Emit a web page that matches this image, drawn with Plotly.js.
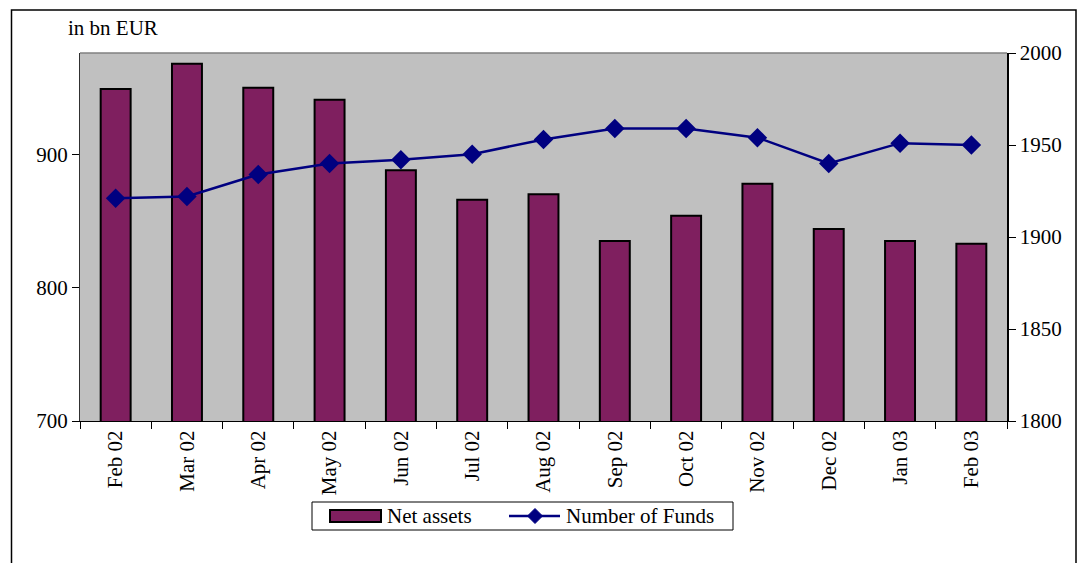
<!DOCTYPE html>
<html>
<head>
<meta charset="utf-8">
<script src="https://cdn.plot.ly/plotly-3.0.1.min.js"></script>
<style>
html,body{margin:0;padding:0;background:#fff;}
#chart{width:1082px;height:563px;}
</style>
</head>
<body>
<div id="chart"></div>
<script>
const months = ["Feb 02","Mar 02","Apr 02","May 02","Jun 02","Jul 02","Aug 02","Sep 02","Oct 02","Nov 02","Dec 02","Jan 03","Feb 03"];
const netAssets = [949, 968, 950, 941, 888, 866, 870, 835, 854, 878, 844, 835, 833];
const numberOfFunds = [1921, 1922, 1934, 1940, 1942, 1945, 1953, 1959, 1959, 1954, 1940, 1951, 1950];
const leftTicks = [700, 800, 900];
const rightTicks = [1800, 1850, 1900, 1950, 2000];
const seriesNames = ["Net assets", "Number of Funds"];

const W = 1082, H = 563;
const M = {l: 80, r: 75, t: 53, b: 142};
const pw = W - M.l - M.r, ph = H - M.t - M.b;
const px = x => (x - M.l) / pw;
const py = y => (H - M.b - y) / ph;

const FONT = '"Liberation Serif", "Times New Roman", serif';
const FS = 21;
const BAR_COLOR = "#7F1F5F";
const LINE_COLOR = "#000080";

const traces = [
  {
    type: "bar",
    name: seriesNames[0],
    x: months,
    y: netAssets,
    width: 0.42,
    marker: {color: BAR_COLOR, line: {color: "#000000", width: 2}},
    showlegend: false
  },
  {
    type: "scatter",
    mode: "lines+markers",
    name: seriesNames[1],
    x: months,
    y: numberOfFunds,
    yaxis: "y2",
    line: {color: LINE_COLOR, width: 2.5},
    marker: {symbol: "diamond", size: 15, color: LINE_COLOR},
    showlegend: false
  }
];

// legend drawn as shapes + text (wide swatches like the original)
const legY = 516;
const diamond = (cx, cy, r) => {
  const x0 = px(cx - r), x1 = px(cx), x2 = px(cx + r);
  const yT = py(cy - r), yM = py(cy), yB = py(cy + r);
  return `M${x0},${yM} L${x1},${yT} L${x2},${yM} L${x1},${yB} Z`;
};

const layout = {
  width: W, height: H,
  margin: M,
  paper_bgcolor: "#ffffff",
  plot_bgcolor: "#C0C0C0",
  font: {family: FONT, size: FS, color: "#000"},
  showlegend: false,
  xaxis: {
    type: "category",
    range: [-0.5, months.length - 0.5],
    showgrid: false,
    showline: true, linecolor: "#000", linewidth: 1,
    ticks: "outside", ticklen: 7, tickcolor: "#000",
    tickson: "boundaries",
    tickangle: -90,
    tickfont: {family: FONT, size: FS},
    zeroline: false
  },
  yaxis: {
    range: [700, 976],
    tickvals: leftTicks,
    showgrid: false,
    showline: true, linecolor: "#303030", linewidth: 1,
    ticks: "outside", ticklen: 7, tickcolor: "#000",
    tickfont: {family: FONT, size: FS},
    zeroline: false
  },
  yaxis2: {
    overlaying: "y",
    side: "right",
    range: [1800, 2000],
    tickvals: rightTicks,
    showgrid: false,
    showline: true, linecolor: "#000", linewidth: 1.5,
    ticks: "outside", ticklen: 7, tickcolor: "#000",
    tickfont: {family: FONT, size: FS},
    zeroline: false
  },
  shapes: [
    {type: "line", xref: "paper", yref: "paper", x0: 0, x1: 1, y0: 1, y1: 1,
     line: {color: "#808080", width: 1.5}},
    {type: "rect", xref: "paper", yref: "paper",
     x0: px(11.5), x1: px(1076), y0: py(10), y1: py(600),
     line: {color: "#000", width: 1.5}, fillcolor: "rgba(0,0,0,0)", layer: "below"},
    // legend box
    {type: "rect", xref: "paper", yref: "paper",
     x0: px(312), x1: px(733), y0: py(502), y1: py(530),
     line: {color: "#000", width: 1}, fillcolor: "#ffffff"},
    // bar swatch
    {type: "rect", xref: "paper", yref: "paper",
     x0: px(330), x1: px(381), y0: py(510), y1: py(522),
     line: {color: "#000", width: 2}, fillcolor: BAR_COLOR},
    // line swatch
    {type: "line", xref: "paper", yref: "paper",
     x0: px(509), x1: px(560), y0: py(legY), y1: py(legY),
     line: {color: LINE_COLOR, width: 2.5}},
    {type: "path", xref: "paper", yref: "paper",
     path: diamond(535, legY, 7.5),
     line: {color: LINE_COLOR, width: 1}, fillcolor: LINE_COLOR}
  ],
  annotations: [
    {text: "in bn EUR", xref: "paper", yref: "paper",
     x: px(66), y: py(28), xanchor: "left", yanchor: "middle",
     showarrow: false, font: {family: FONT, size: FS}},
    {text: seriesNames[0], xref: "paper", yref: "paper",
     x: px(385), y: py(legY), xanchor: "left", yanchor: "middle",
     showarrow: false, font: {family: FONT, size: FS}},
    {text: seriesNames[1], xref: "paper", yref: "paper",
     x: px(564), y: py(legY), xanchor: "left", yanchor: "middle",
     showarrow: false, font: {family: FONT, size: FS}}
  ]
};

Plotly.newPlot("chart", traces, layout, {displayModeBar: false, staticPlot: true});
</script>
</body>
</html>
